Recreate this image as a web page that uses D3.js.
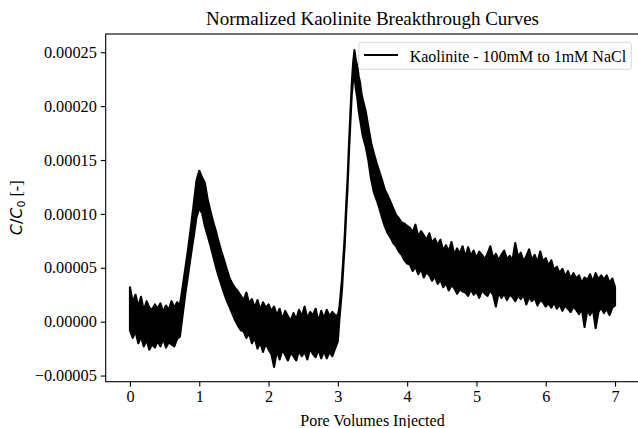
<!DOCTYPE html>
<html>
<head>
<meta charset="utf-8">
<script src="https://cdn.jsdelivr.net/npm/d3@7"></script>
<style>
    html, body { margin: 0; padding: 0; background: #ffffff; }
    #viz-kaolinite { width: 638px; height: 428px; overflow: hidden; }
</style>
</head>
<body>
<div id="viz-kaolinite"></div>
<script>
// Pore volumes injected (x axis)
const poreVolumes = [
    0.00, 0.04, 0.08, 0.12, 0.16, 0.20, 0.24, 0.28, 0.32, 0.36,
    0.40, 0.44, 0.48, 0.52, 0.56, 0.60, 0.64, 0.68, 0.72, 0.76,
    0.80, 0.84, 0.88, 0.92, 0.96, 1.00, 1.04, 1.08, 1.12, 1.16,
    1.20, 1.24, 1.28, 1.32, 1.36, 1.40, 1.44, 1.48, 1.52, 1.56,
    1.60, 1.64, 1.68, 1.72, 1.76, 1.80, 1.84, 1.88, 1.92, 1.96,
    2.00, 2.04, 2.08, 2.12, 2.16, 2.20, 2.24, 2.28, 2.32, 2.36,
    2.40, 2.44, 2.48, 2.52, 2.56, 2.60, 2.64, 2.68, 2.72, 2.76,
    2.80, 2.84, 2.88, 2.92, 2.96, 3.00, 3.02, 3.04, 3.06, 3.08,
    3.10, 3.12, 3.14, 3.16, 3.18, 3.20, 3.22, 3.24, 3.26, 3.28,
    3.30, 3.32, 3.34, 3.36, 3.40, 3.44, 3.48, 3.52, 3.56, 3.60,
    3.64, 3.68, 3.72, 3.76, 3.80, 3.84, 3.88, 3.92, 3.96, 4.00,
    4.04, 4.08, 4.12, 4.16, 4.20, 4.24, 4.28, 4.32, 4.36, 4.40,
    4.44, 4.48, 4.52, 4.56, 4.60, 4.64, 4.68, 4.72, 4.76, 4.80,
    4.84, 4.88, 4.92, 4.96, 5.00, 5.04, 5.08, 5.12, 5.16, 5.20,
    5.24, 5.28, 5.32, 5.36, 5.40, 5.44, 5.48, 5.52, 5.56, 5.60,
    5.64, 5.68, 5.72, 5.76, 5.80, 5.84, 5.88, 5.92, 5.96, 6.00,
    6.04, 6.08, 6.12, 6.16, 6.20, 6.24, 6.28, 6.32, 6.36, 6.40,
    6.44, 6.48, 6.52, 6.56, 6.60, 6.64, 6.68, 6.72, 6.76, 6.80,
    6.84, 6.88, 6.92, 6.96, 7.00
];

// Noisy C/C0 signal, read as upper and lower edge of the trace (units of 1e-5)
const upperE5 = [
    3.2, 1.8, 2.5, 1.4, 2.3, 1.0, 1.9, 1.3, 1.1, 1.6,
    1.2, 1.7, 0.9, 1.5, 1.1, 1.9, 1.3, 1.8, 1.5, 3.2,
    5.0, 6.8, 8.8, 10.9, 13.1, 14.0, 13.4, 12.9, 11.4, 10.3,
    9.3, 8.4, 7.4, 6.5, 5.7, 4.8, 4.0, 3.5, 3.1, 2.8,
    2.4, 2.0, 2.7, 1.7, 2.1, 1.3, 2.0, 1.1, 1.8, 1.3,
    1.6, 1.0, 1.4, 0.6, 1.2, 0.2, 1.0, 0.5, 0.1, 0.8,
    0.2, 1.1, 0.5, 1.4, 0.3, 0.9, 0.6, 1.2, 0.0, 1.0,
    0.3, 1.1, 0.5, 0.9, 0.6, 0.6, 1.2, 2.5, 4.0, 6.0,
    8.0, 10.8, 13.2, 16.4, 19.2, 22.0, 24.0, 25.2, 24.2, 23.8,
    22.8, 22.2, 21.2, 20.6, 19.6, 18.1, 16.6, 15.6, 14.7, 13.9,
    13.1, 12.2, 11.7, 11.1, 10.5, 9.9, 9.6, 9.2, 9.1, 8.9,
    8.7, 8.3, 9.0, 7.9, 8.4, 8.0, 7.6, 8.2, 7.3, 7.7,
    7.1, 7.6, 6.6, 7.1, 6.5, 7.4, 6.2, 6.8, 6.3, 7.0,
    6.0, 6.9, 6.1, 6.6, 5.9, 6.5, 6.2, 5.8, 6.3, 7.0,
    5.9, 6.3, 5.7, 6.2, 6.6, 5.8, 6.1, 5.7, 7.3, 6.0,
    6.4, 5.6, 6.1, 6.7, 5.7, 6.2, 5.5, 6.5, 5.6, 5.9,
    5.2, 5.7, 4.8, 5.1, 4.5, 4.9, 4.2, 4.7, 4.0, 4.5,
    4.0, 4.3, 3.6, 4.1, 3.9, 4.4, 3.7, 4.5, 3.9, 4.3,
    3.9, 4.3, 3.6, 4.0, 3.2
];

const lowerE5 = [
    -0.8, -1.5, -0.9, -2.0, -1.4, -2.3, -1.7, -2.6, -2.1, -2.4,
    -1.8, -2.3, -1.6, -2.4, -1.9, -2.1, -2.3, -1.6, -1.4, 0.6,
    2.6, 4.4, 6.2, 7.9, 9.7, 10.5, 10.1, 8.9, 8.0, 7.1,
    6.1, 5.1, 4.2, 3.4, 2.6, 1.9, 1.3, 0.7, 0.1, -0.4,
    -0.8, -0.9, -1.5, -1.1, -2.0, -1.5, -2.5, -1.9, -2.8, -2.0,
    -2.6, -3.0, -4.2, -2.7, -3.5, -2.6, -3.1, -3.6, -2.9, -3.2,
    -3.6, -2.7, -3.2, -2.8, -3.5, -2.5, -3.0, -3.3, -2.6, -3.4,
    -2.7, -3.4, -2.8, -3.2, -2.5, -1.8, 0.0, 1.5, 3.0, 5.2,
    7.2, 10.0, 12.4, 15.6, 18.4, 21.0, 22.4, 22.8, 21.6, 20.8,
    19.6, 18.8, 18.0, 17.2, 16.3, 15.0, 13.2, 12.0, 11.3, 10.5,
    9.6, 8.8, 8.2, 7.8, 7.3, 7.0, 6.5, 6.2, 5.7, 5.4,
    5.3, 4.7, 5.1, 4.4, 4.9, 4.1, 4.6, 4.3, 3.8, 4.2,
    3.5, 3.9, 3.2, 3.6, 2.9, 3.4, 3.1, 2.6, 3.0, 2.8,
    2.7, 2.4, 3.0, 2.5, 2.8, 2.2, 2.9, 2.6, 2.4, 2.9,
    2.5, 1.4, 2.7, 2.2, 2.6, 2.0, 2.5, 2.3, 1.9, 2.4,
    2.1, 2.5, 1.6, 2.3, 1.9, 2.2, 1.5, 2.0, 1.8, 1.4,
    1.7, 1.3, 1.8, 1.2, 1.6, 1.0, 1.5, 1.2, 0.9, 1.4,
    1.1, 0.7, 1.2, -0.5, 1.1, 0.6, 1.2, -0.6, 0.9, 1.3,
    0.8, 1.2, 0.6, 1.3, 1.5
];

const xTicks = [0, 1, 2, 3, 4, 5, 6, 7];
const yTicks = [-5, 0, 5, 10, 15, 20, 25];   // in units of 1e-5

const seriesName = 'Kaolinite - 100mM to 1mM NaCl';

function drawKaoliniteChart() {
    const container = d3.select('#viz-kaolinite');
    container.selectAll('*').remove();

    const serif = '"Liberation Serif", "Times New Roman", serif';

    // Plot area (right edge falls just outside the picture, as in the original)
    const plot = { left: 105.7, right: 639.3, top: 34, bottom: 381.7 };

    const svg = container.append('svg')
        .attr('width', 638)
        .attr('height', 428);

    const data = poreVolumes.map((x, i) => ({ x: x, hi: upperE5[i], lo: lowerE5[i] }));

    // Scales
    const xScale = d3.scaleLinear()
        .domain([-0.35, 7.35])
        .range([plot.left, plot.right]);

    const yScale = d3.scaleLinear()
        .domain([-5.57, 26.69])
        .range([plot.bottom, plot.top]);

    // Noisy trace drawn as a filled band with a 2px outline
    const band = d3.area()
        .x(d => xScale(d.x))
        .y0(d => yScale(d.lo))
        .y1(d => yScale(d.hi));

    svg.append('path')
        .datum(data)
        .attr('d', band)
        .attr('fill', '#000000')
        .attr('stroke', '#000000')
        .attr('stroke-width', 2.1)
        .attr('stroke-linejoin', 'round');

    // Axes
    const xAxis = svg.append('g')
        .attr('transform', `translate(0,${plot.bottom})`)
        .call(d3.axisBottom(xScale)
            .tickValues(xTicks)
            .tickSize(4.9)
            .tickPadding(4)
            .tickSizeOuter(0)
            .tickFormat(d3.format('d')));

    const yAxis = svg.append('g')
        .attr('transform', `translate(${plot.left},0)`)
        .call(d3.axisLeft(yScale)
            .tickValues(yTicks)
            .tickSize(4.9)
            .tickPadding(4)
            .tickSizeOuter(0)
            .tickFormat(d => {
                const v = (d * 1e-5).toFixed(5);
                return d < 0 ? '\u2212' + v.slice(1) : v;
            }));

    [xAxis, yAxis].forEach(ax => {
        ax.select('.domain').remove();
        ax.selectAll('line').attr('stroke', '#000').attr('stroke-width', 1.1);
        ax.selectAll('text')
            .attr('fill', '#000')
            .style('font-family', serif)
            .style('font-size', '16.3px');
    });

    // Frame
    svg.append('rect')
        .attr('x', plot.left)
        .attr('y', plot.top)
        .attr('width', plot.right - plot.left)
        .attr('height', plot.bottom - plot.top)
        .attr('fill', 'none')
        .attr('stroke', '#000')
        .attr('stroke-width', 1.1);

    // Title
    svg.append('text')
        .attr('x', (plot.left + plot.right) / 2)
        .attr('y', 25)
        .attr('text-anchor', 'middle')
        .style('font-family', serif)
        .style('font-size', '19px')
        .text('Normalized Kaolinite Breakthrough Curves');

    // X label
    svg.append('text')
        .attr('x', (plot.left + plot.right) / 2)
        .attr('y', 425.5)
        .attr('text-anchor', 'middle')
        .style('font-family', serif)
        .style('font-size', '16px')
        .text('Pore Volumes Injected');

    // Y label: C/C0 [-]
    const yLabel = svg.append('text')
        .attr('transform', `translate(22,${(plot.top + plot.bottom) / 2}) rotate(-90)`)
        .attr('text-anchor', 'middle')
        .style('font-size', '16px');

    yLabel.append('tspan')
        .style('font-family', '"DejaVu Sans", sans-serif')
        .style('font-style', 'italic')
        .text('C');
    yLabel.append('tspan')
        .style('font-family', '"DejaVu Sans", sans-serif')
        .text('/');
    yLabel.append('tspan')
        .style('font-family', '"DejaVu Sans", sans-serif')
        .style('font-style', 'italic')
        .text('C');
    yLabel.append('tspan')
        .style('font-family', '"DejaVu Sans", sans-serif')
        .style('font-size', '11px')
        .attr('dy', 3)
        .text('0');
    yLabel.append('tspan')
        .style('font-family', serif)
        .attr('dy', -3)
        .text(' [-]');

    // Legend
    const legend = svg.append('g');

    legend.append('rect')
        .attr('x', 358.7)
        .attr('y', 42.3)
        .attr('width', 272.6)
        .attr('height', 27)
        .attr('rx', 3)
        .attr('fill', '#ffffff')
        .attr('fill-opacity', 0.8)
        .attr('stroke', '#d6d6d6')
        .attr('stroke-width', 1);

    legend.append('line')
        .attr('x1', 364)
        .attr('x2', 398)
        .attr('y1', 55)
        .attr('y2', 55)
        .attr('stroke', '#000')
        .attr('stroke-width', 2.1);

    legend.append('text')
        .attr('x', 409.7)
        .attr('y', 61.5)
        .style('font-family', serif)
        .style('font-size', '16px')
        .text(seriesName);
}

drawKaoliniteChart();
</script>
</body>
</html>
